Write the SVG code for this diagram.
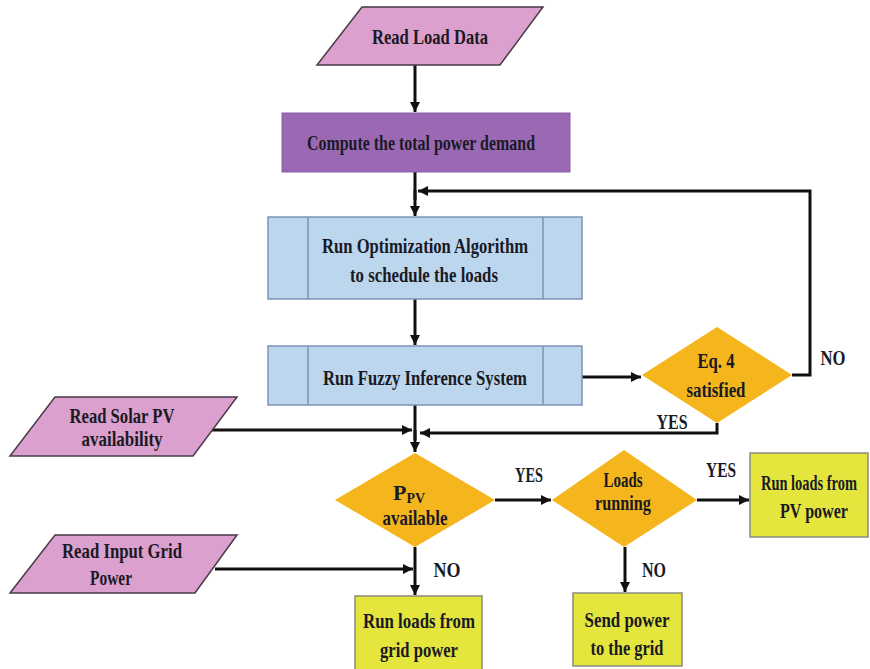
<svg xmlns="http://www.w3.org/2000/svg" width="870" height="669" viewBox="0 0 870 669">
<defs>
<marker id="ah" viewBox="0 0 10 10" refX="10" refY="5" markerWidth="10" markerHeight="10" markerUnits="userSpaceOnUse" orient="auto">
<path d="M0,0 L10,5 L0,10 z" fill="#111"/>
</marker>
<style>
.t{font-family:"Liberation Serif","Times New Roman",serif;font-weight:bold;font-size:22px;fill:#1a1a24;text-anchor:middle}
.io{fill:#DBA0CD;stroke:#4a3a48;stroke-width:1.5}
.proc{fill:#9B69B4;stroke:#8a5aa6;stroke-width:1}
.sub{fill:#BCD6EE;stroke:#7D93B6;stroke-width:1.5}
.dec{fill:#F5B51C;stroke:none}
.term{fill:#E4E63D;stroke:#8a8a80;stroke-width:1.5}
.c{fill:none;stroke:#111;stroke-width:3}
.a{marker-end:url(#ah)}
</style>
</defs>
<rect width="870" height="669" fill="#fff"/>

<g id="connectors">
<path class="c a" d="M415,65 V112"/>
<path class="c" d="M415,172 V200"/>
<path class="c a" d="M415,190 V216"/>
<path class="c a" d="M792,375 H810 V191 H418"/>
<path class="c a" d="M415,299 V345"/>
<path class="c a" d="M582,377 H641"/>
<path class="c a" d="M717,423 V433 H420"/>
<path class="c" d="M415,405 V440"/>
<path class="c a" d="M415,430 V452"/>
<path class="c a" d="M212,430 H412"/>
<path class="c a" d="M495,500 H551"/>
<path class="c a" d="M697,500 H749"/>
<path class="c a" d="M415,547 V595"/>
<path class="c a" d="M215,569 H413"/>
<path class="c a" d="M625,547 V592"/>
</g>

<g id="n_readload">
<polygon class="io" points="362,7 543,7 500,65 317,65"/>
<text class="t" x="430" y="44" font-size="23" textLength="116" lengthAdjust="spacingAndGlyphs">Read Load Data</text>
</g>

<g id="n_compute">
<rect class="proc" x="282" y="113" width="288" height="59"/>
<text class="t" x="421" y="150" textLength="228" lengthAdjust="spacingAndGlyphs">Compute the total power demand</text>
</g>

<g id="n_opt">
<rect class="sub" x="268" y="217" width="314" height="82"/>
<line class="sub" x1="308" y1="217" x2="308" y2="299"/>
<line class="sub" x1="543" y1="217" x2="543" y2="299"/>
<text class="t" x="425" y="253" textLength="206" lengthAdjust="spacingAndGlyphs">Run Optimization Algorithm</text>
<text class="t" x="424" y="282" textLength="148" lengthAdjust="spacingAndGlyphs">to schedule the loads</text>
</g>

<g id="n_fuzzy">
<rect class="sub" x="268" y="346" width="314" height="59"/>
<line class="sub" x1="308" y1="346" x2="308" y2="405"/>
<line class="sub" x1="543" y1="346" x2="543" y2="405"/>
<text class="t" x="425" y="385" textLength="204" lengthAdjust="spacingAndGlyphs">Run Fuzzy Inference System</text>
</g>

<g id="n_eq4">
<polygon class="dec" points="717,327 792,375 717,423 642,375"/>
<text class="t" x="716" y="368" textLength="37" lengthAdjust="spacingAndGlyphs">Eq. 4</text>
<text class="t" x="716" y="397" textLength="59" lengthAdjust="spacingAndGlyphs">satisfied</text>
</g>

<g id="n_solar">
<polygon class="io" points="55,397 237,397 193,456 10,456"/>
<text class="t" x="122" y="423" textLength="105" lengthAdjust="spacingAndGlyphs">Read Solar PV</text>
<text class="t" x="122" y="446" textLength="81" lengthAdjust="spacingAndGlyphs">availability</text>
</g>

<g id="n_ppv">
<polygon class="dec" points="415,453 495,500 415,547 335,500"/>
<text class="t" x="409" y="500" text-anchor="middle">P<tspan font-size="14" dy="3">PV</tspan></text>
<text class="t" x="415" y="525" textLength="65" lengthAdjust="spacingAndGlyphs">available</text>
</g>

<g id="n_loads">
<polygon class="dec" points="624,450 697,500 624,547 552,500"/>
<text class="t" x="623" y="487" textLength="39" lengthAdjust="spacingAndGlyphs">Loads</text>
<text class="t" x="623" y="510" textLength="56" lengthAdjust="spacingAndGlyphs">running</text>
</g>

<g id="n_pvpower">
<rect class="term" x="750" y="453" width="118" height="84"/>
<text class="t" x="809" y="490" textLength="96" lengthAdjust="spacingAndGlyphs">Run loads from</text>
<text class="t" x="814" y="518" textLength="68" lengthAdjust="spacingAndGlyphs">PV power</text>
</g>

<g id="n_grid">
<polygon class="io" points="55,535 237,535 195,593 10,593"/>
<text class="t" x="122" y="558" textLength="120" lengthAdjust="spacingAndGlyphs">Read Input Grid</text>
<text class="t" x="111" y="585" textLength="42" lengthAdjust="spacingAndGlyphs">Power</text>
</g>

<g id="n_gridpower">
<rect class="term" x="355" y="596" width="127" height="80"/>
<text class="t" x="419" y="628" textLength="112" lengthAdjust="spacingAndGlyphs">Run loads from</text>
<text class="t" x="419" y="657" textLength="78" lengthAdjust="spacingAndGlyphs">grid power</text>
</g>

<g id="n_send">
<rect class="term" x="573" y="593" width="109" height="73"/>
<text class="t" x="627" y="627" textLength="85" lengthAdjust="spacingAndGlyphs">Send power</text>
<text class="t" x="627" y="655" textLength="73" lengthAdjust="spacingAndGlyphs">to the grid</text>
</g>

<g id="labels">
<text class="t" x="833" y="365" textLength="25" lengthAdjust="spacingAndGlyphs">NO</text>
<text class="t" x="672" y="429" textLength="31" lengthAdjust="spacingAndGlyphs">YES</text>
<text class="t" x="529" y="482" textLength="28" lengthAdjust="spacingAndGlyphs">YES</text>
<text class="t" x="721" y="477" textLength="30" lengthAdjust="spacingAndGlyphs">YES</text>
<text class="t" x="447" y="577" textLength="27" lengthAdjust="spacingAndGlyphs">NO</text>
<text class="t" x="654" y="577" textLength="24" lengthAdjust="spacingAndGlyphs">NO</text>
</g>
</svg>
